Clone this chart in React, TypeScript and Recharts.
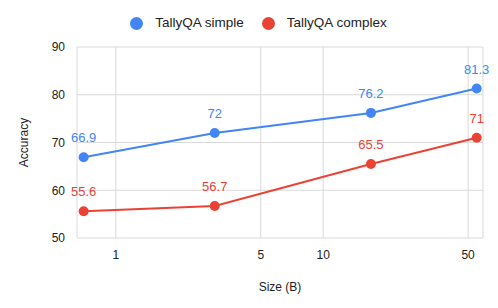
import { CartesianGrid, Legend, LabelList, Line, LineChart, XAxis, YAxis } from "recharts";

const sizes = [0.7, 3, 17, 55];
const simpleAcc = [66.9, 72, 76.2, 81.3];
const complexAcc = [55.6, 56.7, 65.5, 71];
const xTicks = [1, 5, 10, 50];
const yTicks = [50, 60, 70, 80, 90];
const seriesOrder = ["TallyQA simple", "TallyQA complex"];

const data = sizes.map((size, i) => ({ size, simple: simpleAcc[i], complex: complexAcc[i] }));

const BLUE = "#4285F4";
const RED = "#EA4335";
const FONT = "Arial, 'Liberation Sans', sans-serif";

export default function App() {
  return (
    <div style={{ position: "absolute", left: 0, top: 0, width: 498, height: 308, background: "#fff", fontFamily: FONT }}>
      <LineChart width={498} height={308} data={data} margin={{ top: 17, right: 15, bottom: 0, left: 0 }}>
        <CartesianGrid stroke="#d9d9d9" vertical={true} horizontal={true} />
        <XAxis
          dataKey="size"
          type="number"
          scale="log"
          domain={[0.65, 59]}
          allowDataOverflow
          ticks={xTicks}
          tickLine={false}
          axisLine={false}
          height={70}
          tick={{ fill: "#222", fontSize: 12, fontFamily: FONT }}
          tickMargin={6}
          label={{ value: "Size (B)", position: "insideBottom", offset: 17, fill: "#222", fontSize: 12, fontFamily: FONT }}
        />
        <YAxis
          type="number"
          domain={[50, 90]}
          ticks={yTicks}
          tickLine={false}
          axisLine={false}
          width={77}
          tick={{ fill: "#222", fontSize: 12, fontFamily: FONT }}
          tickMargin={6}
          label={{ value: "Accuracy", angle: -90, position: "insideLeft", offset: 24, fill: "#222", fontSize: 12, fontFamily: FONT, style: { textAnchor: "middle" } }}
        />
        <Legend
          verticalAlign="top"
          align="center"
          height={30}
          iconType="circle"
          iconSize={13}
          itemSorter={(item: any) => seriesOrder.indexOf(item.value)}
          wrapperStyle={{ top: 15, paddingLeft: 26, fontSize: 13.5, fontFamily: FONT }}
          formatter={(value) => <span style={{ color: "#222", marginLeft: 8, marginRight: 8 }}>{value}</span>}
        />
        <Line
          dataKey="simple"
          name="TallyQA simple"
          stroke={BLUE}
          strokeWidth={2}
          dot={{ r: 5, fill: BLUE, stroke: BLUE, strokeWidth: 0 }}
          isAnimationActive={false}
        >
          <LabelList dataKey="simple" position="top" offset={15} fill={BLUE} fontSize={13} fontFamily={FONT} />
        </Line>
        <Line
          dataKey="complex"
          name="TallyQA complex"
          stroke={RED}
          strokeWidth={2}
          dot={{ r: 5, fill: RED, stroke: RED, strokeWidth: 0 }}
          isAnimationActive={false}
        >
          <LabelList dataKey="complex" position="top" offset={15} fill={RED} fontSize={13} fontFamily={FONT} />
        </Line>
      </LineChart>
    </div>
  );
}
